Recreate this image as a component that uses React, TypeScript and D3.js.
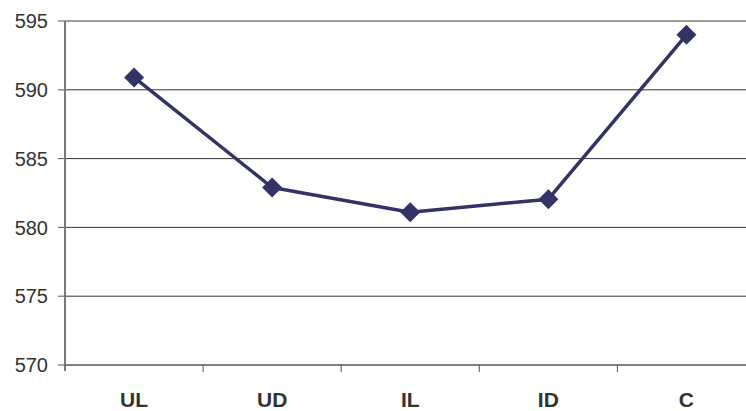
import React from "react";
import * as d3 from "d3";

const categories = ["UL", "UD", "IL", "ID", "C"];
const values = [590.9, 582.9, 581.1, 582.05, 594.0];
const yTicks = [570, 575, 580, 585, 590, 595];

const W = 746;
const H = 411;
const left = 65;
const right = 755.5;
const top = 21;
const bottom = 365;

export default function App() {
  const x = d3.scaleBand<string>().domain(categories).range([left, right]).padding(0);
  const y = d3.scaleLinear().domain([570, 595]).range([bottom, top]);
  const pts: [number, number][] = categories.map((c, i) => [x(c)! + x.bandwidth() / 2, y(values[i])]);
  const line = d3.line<[number, number]>()(pts) || "";
  const boundaries = categories.map((c) => x(c)!).concat([right]);
  const r = 10;
  return (
    <svg width={W} height={H} style={{ position: "absolute", left: 0, top: 0, background: "#fff" }}>
      {yTicks.map((t) => (
        <g key={t}>
          {t !== 570 && (
            <line
              x1={left}
              x2={W}
              y1={y(t)}
              y2={y(t)}
              stroke={t === 595 ? "#a39a96" : "#333"}
              strokeWidth={t === 595 ? 2 : 1}
            />
          )}
          <line x1={left - 7} x2={left} y1={y(t)} y2={y(t)} stroke="#555" strokeWidth={1} />
          <text
            x={48}
            y={y(t)}
            dy="0.36em"
            textAnchor="end"
            fontFamily="Liberation Sans, Arial, sans-serif"
            fontSize={20}
            fill="#333"
          >
            {t}
          </text>
        </g>
      ))}
      <line x1={left} x2={left} y1={top} y2={bottom + 6} stroke="#7d7775" strokeWidth={2} />
      <line x1={left} x2={W} y1={bottom} y2={bottom} stroke="#555" strokeWidth={1.5} />
      {boundaries.slice(1).map((b, i) => (
        <line key={i} x1={b} x2={b} y1={bottom} y2={bottom + 7} stroke="#555" strokeWidth={1} />
      ))}
      {categories.map((c) => (
        <text
          key={c}
          x={x(c)! + x.bandwidth() / 2}
          y={407}
          textAnchor="middle"
          fontFamily="Liberation Sans, Arial, sans-serif"
          fontWeight="bold"
          fontSize={21}
          fill="#333"
        >
          {c}
        </text>
      ))}
      <path d={line} fill="none" stroke="#333366" strokeWidth={3.5} strokeLinejoin="round" />
      {pts.map(([px, py], i) => (
        <path
          key={i}
          d={`M${px},${py - r}L${px + r},${py}L${px},${py + r}L${px - r},${py}Z`}
          fill="#333366"
        />
      ))}
    </svg>
  );
}
